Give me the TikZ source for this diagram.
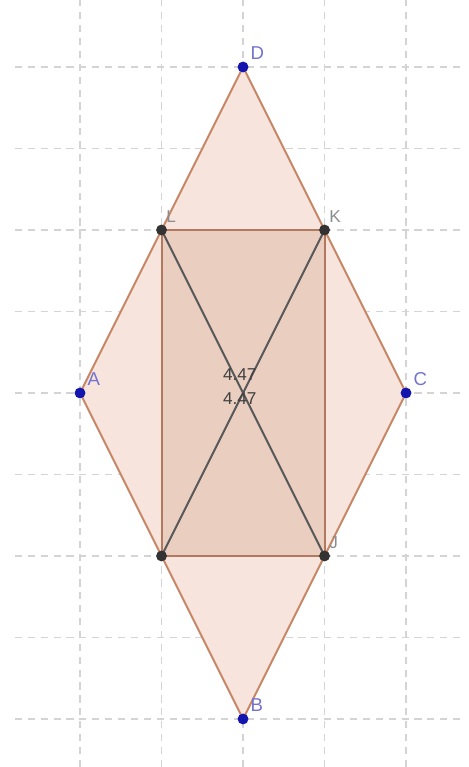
\documentclass[tikz,border=0pt]{standalone}
\usepackage{fontspec}
\setmainfont{Liberation Sans}
\usetikzlibrary{positioning}
\definecolor{rhombfill}{RGB}{247,229,221}
\definecolor{rectfill}{RGB}{234,207,193}
\definecolor{edgebrown}{RGB}{200,136,104}
\definecolor{rectedge}{RGB}{178,120,96}
\definecolor{ptblue}{RGB}{20,20,175}
\definecolor{lblblue}{RGB}{115,115,205}
\definecolor{gridgray}{RGB}{212,212,212}

\begin{document}
\begin{tikzpicture}[
  gridline/.style={gridgray,dash pattern=on 2.5pt off 2pt,line width=0.5pt},
  bluept/.style={circle,fill=ptblue,inner sep=0pt,minimum size=3.8pt},
  darkpt/.style={circle,fill=black!80,inner sep=0pt,minimum size=3.8pt},
  ptlabel/.style={font=\fontsize{6.5}{7}\selectfont,text=lblblue,inner sep=1pt},
  graylabel/.style={font=\fontsize{6}{7}\selectfont,text=black!45,inner sep=1pt},
  lenlabel/.style={font=\fontsize{6}{7}\selectfont,text=black!75,inner sep=0pt}]
  \useasboundingbox (-0.982,-0.589) rectangle (4.761,8.822);
  % grid
  \foreach \x in {0,...,4} \draw[gridline] (\x,-0.589) -- (\x,8.822);
  \foreach \y in {0,...,8} \draw[gridline] (-0.8,\y) -- (4.72,\y);
  % points
  \coordinate (A) at (0,4);
  \coordinate (B) at (2,0);
  \coordinate (C) at (4,4);
  \coordinate (D) at (2,8);
  \coordinate (I) at (1,2);
  \coordinate (J) at (3,2);
  \coordinate (K) at (3,6);
  \coordinate (L) at (1,6);
  % fills
  \fill[rhombfill] (A) -- (B) -- (C) -- (D) -- cycle;
  \fill[rectfill] (I) -- (J) -- (K) -- (L) -- cycle;
  % edges
  \draw[edgebrown,line width=0.7pt] (A) -- (B) -- (C) -- (D) -- cycle;
  \draw[rectedge,line width=0.7pt] (I) -- (J) -- (K) -- (L) -- cycle;
  \draw[black!65,line width=0.7pt] (I) -- (K);
  \draw[black!65,line width=0.7pt] (J) -- (L);
  % lengths
  \node[lenlabel] (len1) at (1.96,4.22) {4.47};
  \node[lenlabel] (len2) at (1.96,3.93) {4.47};
  % dots
  \node[bluept] (dA) at (A) {};
  \node[bluept] (dB) at (B) {};
  \node[bluept] (dC) at (C) {};
  \node[bluept] (dD) at (D) {};
  \node[darkpt] (dI) at (I) {};
  \node[darkpt] (dJ) at (J) {};
  \node[darkpt] (dK) at (K) {};
  \node[darkpt] (dL) at (L) {};
  % labels
  \node[ptlabel,above right=0pt and 0pt of dA] {A};
  \node[ptlabel,above right=0pt and 0pt of dB] {B};
  \node[ptlabel,above right=0pt and 0pt of dC] {C};
  \node[ptlabel,above right=0pt and 0pt of dD] {D};
  \node[graylabel,above right=0pt and -1pt of dJ] {J};
  \node[graylabel,above right=0pt and -1pt of dK] {K};
  \node[graylabel,above right=0pt and -1pt of dL] {L};
\end{tikzpicture}
\end{document}
